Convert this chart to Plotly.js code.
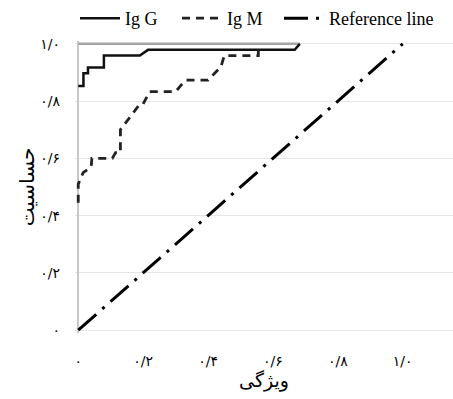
<!DOCTYPE html>
<html>
<head>
<meta charset="utf-8">
<script src="https://cdn.plot.ly/plotly-3.0.1.min.js"></script>
<style>html,body{margin:0;padding:0;background:#fff;}#chart{width:453px;height:399px;}</style>
</head>
<body>
<div id="chart"></div>
<script>
// Data
const igG_x = [0, 0, 0.016, 0.016, 0.03, 0.03, 0.079, 0.079, 0.19, 0.215, 0.667, 0.683];
const igG_y = [0.853, 0.853, 0.853, 0.897, 0.897, 0.917, 0.917, 0.959, 0.959, 0.979, 0.979, 1.0];

const igM_x = [0, 0, 0.015, 0.04, 0.042, 0.105, 0.115, 0.13, 0.13, 0.19, 0.2, 0.22, 0.30, 0.33, 0.40, 0.44, 0.45, 0.555, 0.555];
const igM_y = [0.445, 0.51, 0.55, 0.57, 0.60, 0.60, 0.62, 0.62, 0.70, 0.79, 0.79, 0.833, 0.833, 0.873, 0.873, 0.92, 0.959, 0.959, 1.0];

const ref_x = [0, 1];
const ref_y = [0, 1];

const top_x = [0, 0.683];
const top_y = [1, 1];

const tickVals = [0, 0.2, 0.4, 0.6, 0.8, 1.0];
const tickText = ['\u06F0', '\u06F0/\u06F2', '\u06F0/\u06F4', '\u06F0/\u06F6', '\u06F0/\u06F8', '\u06F1/\u06F0'];

const seriesNames = ['Ig G', 'Ig M', 'Reference line'];
const xTitle = 'ویژگی';
const yTitle = 'حساسیت';

const latin = 'Liberation Serif, Times New Roman, serif';
const persian = 'DejaVu Sans, Liberation Serif, sans-serif';

const traces = [
  {x: top_x, y: top_y, mode: 'lines', line: {color: '#a6a6a6', width: 2.5}, showlegend: false, hoverinfo: 'skip'},
  {x: igG_x, y: igG_y, name: seriesNames[0], mode: 'lines', legendwidth: 47, line: {color: '#111', width: 2.5}},
  {x: igM_x, y: igM_y, name: seriesNames[1], mode: 'lines', legendwidth: 47, line: {color: '#222', width: 2.8, dash: '8px,6px'}},
  {x: ref_x, y: ref_y, name: seriesNames[2], mode: 'lines', line: {color: '#000', width: 3, dash: '24px,8px,3px,8px'}}
];

const layout = {
  width: 453, height: 399,
  margin: {l: 75, r: 0, t: 35, b: 66},
  paper_bgcolor: '#fff', plot_bgcolor: '#fff',
  showlegend: true,
  legend: {orientation: 'h', x: 0.0, xanchor: 'left', y: 1.015, yanchor: 'bottom',
           font: {family: latin, size: 18, color: '#000'}, itemwidth: 40, tracegroupgap: 0},
  xaxis: {range: [-0.01, 1.155], tickvals: tickVals, ticktext: tickText, showgrid: false,
          zeroline: true, zerolinecolor: '#c8c8c8', zerolinewidth: 1.5, showline: false, ticks: '',
          ticklabelstandoff: 18, tickfont: {family: persian, size: 14, color: '#000'},
          title: {text: xTitle, font: {family: persian, size: 19, color: '#000'}, standoff: 2}},
  yaxis: {range: [-0.01, 1.01], tickvals: tickVals, ticktext: tickText, showgrid: true, gridcolor: '#e6e6e6',
          zeroline: true, zerolinecolor: '#e6e6e6', showline: false, ticks: '',
          ticklabelstandoff: 14, tickfont: {family: persian, size: 14, color: '#000'},
          title: {text: yTitle, font: {family: persian, size: 20, color: '#000'}, standoff: 0}}
};

Plotly.newPlot('chart', traces, layout, {displayModeBar: false, staticPlot: true});
</script>
</body>
</html>
